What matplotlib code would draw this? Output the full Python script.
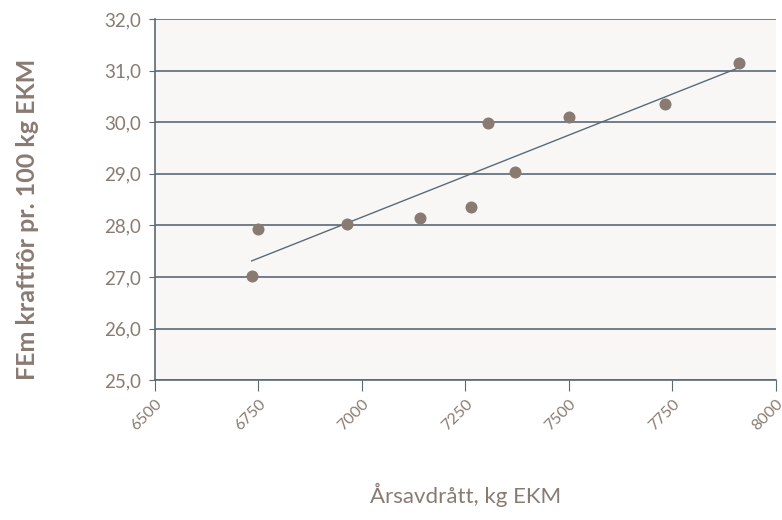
import numpy as np
import matplotlib
matplotlib.use("Agg")
import matplotlib.pyplot as plt

# Årsavdrått (kg EKM) vs FEm kraftfôr pr. 100 kg EKM
yield_kg = [6734, 6749, 6964, 7140, 7263, 7304, 7370, 7500, 7732, 7911]
fem_conc = [27.02, 27.93, 28.02, 28.14, 28.35, 29.98, 29.03, 30.10, 30.35, 31.14]
x_ticks = [6500, 6750, 7000, 7250, 7500, 7750, 8000]
y_ticks = [25, 26, 27, 28, 29, 30, 31, 32]

text_col = "#8a7b72"
line_col = "#5a6a78"
dot_col = "#8a7b72"

plt.rcParams['font.family'] = ['Lato', 'DejaVu Sans']

fig = plt.figure(figsize=(7.82, 5.2), dpi=100)
ax = fig.add_axes([0.198, 0.269, 0.794, 0.6945])
ax.set_facecolor("#f8f7f6")

# trend line (least squares)
k, m = np.polyfit(yield_kg, fem_conc, 1)
xs = np.array([min(yield_kg), max(yield_kg)])
ax.plot(xs, k * xs + m, color=line_col, lw=1.0, zorder=3)

ax.scatter(yield_kg, fem_conc, s=75, color=dot_col, zorder=4, linewidths=0)

ax.set_xlim(6500, 8000)
ax.set_ylim(25, 32)
ax.set_xticks(x_ticks)
ax.set_yticks(y_ticks)
ax.set_yticklabels([f"{v:.1f}".replace(".", ",") for v in y_ticks])
ax.set_xticklabels([str(v) for v in x_ticks], rotation=45, ha="right",
                   rotation_mode="anchor")

ax.grid(axis="y", color=line_col, lw=1.2)
ax.set_axisbelow(True)
for s in ["top", "right"]:
    ax.spines[s].set_visible(False)
for s in ["left", "bottom"]:
    ax.spines[s].set_color(line_col)
    ax.spines[s].set_linewidth(1.2)

ax.tick_params(axis="y", length=4, color=line_col, labelcolor=text_col,
               labelsize=13.5, pad=6)
ax.tick_params(axis="x", length=8, color=line_col, labelcolor=text_col,
               labelsize=11.5, pad=4)

ax.set_xlabel("Årsavdrått, kg EKM", color=text_col, fontsize=16, labelpad=36)
ax.set_ylabel("FEm kraftfôr pr. 100 kg EKM", color=text_col, fontsize=18,
              fontweight="bold")
ax.yaxis.set_label_coords(-0.187, 0.445)

fig.savefig("out.png", dpi=100)
